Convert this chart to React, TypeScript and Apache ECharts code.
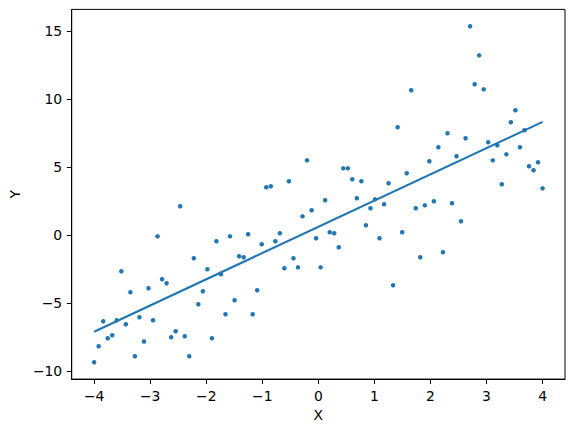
import React, { useEffect, useRef } from "react";
import * as echarts from "echarts";

const yValues: number[] = [
  -9.36, -8.18, -6.35, -7.6, -7.38, -6.27, -2.67, -6.57, -4.21, -8.92,
  -6.05, -7.84, -3.92, -6.27, -0.1, -3.26, -3.55, -7.52, -7.08, 2.11,
  -7.45, -8.92, -1.71, -5.1, -4.14, -2.52, -7.6, -0.46, -2.89, -5.83,
  -0.1, -4.8, -1.57, -1.64, 0.05, -5.83, -4.07, -0.68, 3.51, 3.58,
  -0.46, 0.13, -2.45, 3.95, -1.71, -2.38, 1.37, 5.49, 1.82, -0.24,
  -2.38, 2.55, 0.2, 0.13, -0.9, 4.9, 4.9, 4.1, 2.7, 3.95,
  0.71, 1.96, 2.62, -0.24, 2.26, 3.8, -3.7, 7.92, 0.2, 4.54,
  10.64, 1.96, -1.64, 2.18, 5.42, 2.48, 6.45, -1.27, 7.48, 2.33,
  5.79, 1.01, 7.11, 15.35, 11.08, 13.21, 10.71, 6.82, 5.49, 6.6,
  3.73, 5.93, 8.29, 9.17, 6.45, 7.7, 5.05, 4.76, 5.35, 3.43,
];
const xStart = -4;
const xEnd = 4;
const xValues: number[] = yValues.map(
  (_, i) => xStart + ((xEnd - xStart) * i) / (yValues.length - 1)
);
const lineX: number[] = [-4, 4];
const lineY: number[] = [-7.12, 8.32];
const xTicks: number[] = [-4, -3, -2, -1, 0, 1, 2, 3, 4];
const yTicks: number[] = [-10, -5, 0, 5, 10, 15];

const fmt = (v: number) => (v < 0 ? "\u2212" + Math.abs(v) : String(v));

export default function App() {
  const ref = useRef<HTMLDivElement>(null);
  useEffect(() => {
    if (!ref.current) return;
    const chart = echarts.init(ref.current, undefined, { renderer: "svg" });
    const font = "DejaVu Sans";
    chart.setOption({
      animation: false,
      backgroundColor: "#ffffff",
      grid: {
        left: 69,
        top: 9.4,
        width: 496,
        height: 369.7,
        show: true,
        borderColor: "#000",
        borderWidth: 1,
        backgroundColor: "transparent",
      },
      xAxis: {
        type: "value",
        min: -4.4,
        max: 4.4,
        name: "X",
        nameLocation: "middle",
        nameGap: 25,
        nameTextStyle: { color: "#000", fontSize: 13.9, fontFamily: font },
        splitLine: { show: false },
        axisLine: { show: true, onZero: false, lineStyle: { color: "#000", width: 1 } },
        axisTick: {
          show: true,
          length: 4.9,
          inside: false,
          customValues: xTicks,
          lineStyle: { color: "#000", width: 1 },
        },
        axisLabel: {
          customValues: xTicks,
          formatter: fmt,
          margin: 9.5,
          color: "#000",
          fontSize: 13.9,
          fontFamily: font,
        },
      },
      yAxis: {
        type: "value",
        min: -10.6,
        max: 16.59,
        name: "Y",
        nameLocation: "middle",
        nameGap: 42,
        nameTextStyle: { color: "#000", fontSize: 13.9, fontFamily: font },
        splitLine: { show: false },
        axisLine: { show: true, onZero: false, lineStyle: { color: "#000", width: 1 } },
        axisTick: {
          show: true,
          length: 4.9,
          inside: false,
          customValues: yTicks,
          lineStyle: { color: "#000", width: 1 },
        },
        axisLabel: {
          customValues: yTicks,
          formatter: fmt,
          margin: 9.5,
          color: "#000",
          fontSize: 13.9,
          fontFamily: font,
        },
      },
      series: [
        {
          type: "scatter",
          data: xValues.map((x, i) => [x, yValues[i]]),
          symbolSize: 4.5,
          itemStyle: { color: "#1f77b4", opacity: 1 },
        },
        {
          type: "line",
          data: lineX.map((x, i) => [x, lineY[i]]),
          showSymbol: false,
          symbol: "none",
          lineStyle: { color: "#1f77b4", width: 2.08 },
        },
      ],
    });
    return () => chart.dispose();
  }, []);
  return <div ref={ref} style={{ width: 575, height: 432, margin: -8 }} />;
}
